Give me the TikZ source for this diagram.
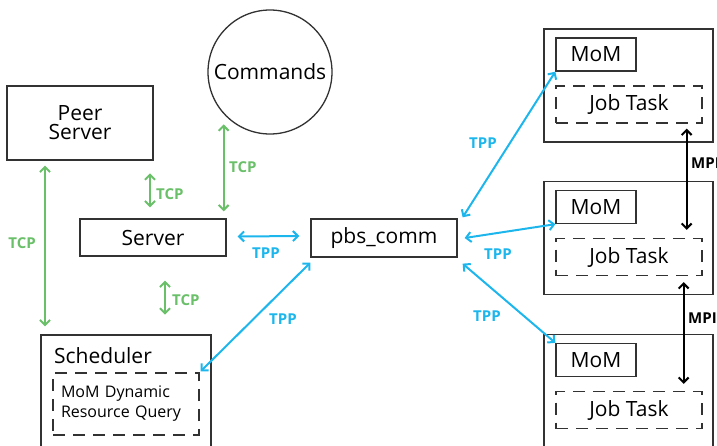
\documentclass[tikz,border=0pt]{standalone}
\usepackage{fontspec}
\setmainfont{Open Sans}
\usetikzlibrary{arrows.meta,calc}

\definecolor{tcpgreen}{RGB}{106,191,105}
\definecolor{tppblue}{RGB}{29,182,236}
\definecolor{boxgray}{RGB}{50,50,50}

\tikzset{
	box/.style={draw=boxgray, line width=1.3pt, rectangle, inner sep=0pt, font=\fontsize{21}{19}\selectfont},
	taskbox/.style={box, dash pattern=on 12pt off 8pt},
	link/.style={<->, >={Straight Barb[length=5pt,width=10pt]}, line width=2pt},
	tcp/.style={link, tcpgreen},
	tpp/.style={link, tppblue},
	mpi/.style={link, black},
	proto/.style={inner sep=0pt, font=\bfseries\fontsize{15}{15}\selectfont}
}

\begin{document}
\begin{tikzpicture}[x=1pt, y=-1pt]
	\useasboundingbox (0,0) rectangle (717,445);
	\clip (0,0) rectangle (717,445);

	% Server side
	\node[box, minimum width=146pt, minimum height=74pt, align=center] (peer) at (80,123) {Peer\\Server};
	\node[box, circle, minimum size=124pt] (cmds) at (270,72) {Commands};
	\node[box, minimum width=146pt, minimum height=37pt] (server) at (153,237.5) {Server};
	\node[box, minimum width=146pt, minimum height=38pt] (comm) at (384,238) {pbs\_comm};

	% Scheduler with its query block
	\node[box, minimum width=170pt, minimum height=124pt] (sched) at (126,397) {};
	\node[anchor=west, inner sep=0pt, font=\fontsize{21}{19}\selectfont] (schedname) at (54,356) {Scheduler};
	\node[taskbox, minimum width=146pt, minimum height=62pt, text width=130pt, align=left,
		font=\fontsize{16}{20}\selectfont] (dyn) at (126,404) {MoM Dynamic\\Resource Query};

	% Execution hosts
	\foreach \i/\y in {1/85.5, 2/238, 3/391} {
		\node[box, minimum width=169pt, minimum height=113pt] (host\i) at (628.5,\y) {};
		\node[box, minimum width=80pt, minimum height=33pt] (mom\i) at (596,\y-31) {MoM};
		\node[taskbox, minimum width=146pt, minimum height=37pt] (job\i) at (629,\y+19) {Job Task};
	}

	% TCP links
	\draw[tcp] ($(peer.south)+(-35,5)$) -- ($(sched.north)+(-81,-8)$);
	\node[proto, tcpgreen, anchor=east] (tcpa) at (36,243) {TCP};
	\draw[tcp] ($(server.north)+(-3,-45)$) -- ($(server.north)+(-3,-11)$);
	\node[proto, tcpgreen, anchor=west] (tcpb) at (156,194) {TCP};
	\draw[tcp] ($(server.north east)+(-3,-94)$) -- ($(server.north east)+(-3,-7)$);
	\node[proto, tcpgreen, anchor=west] (tcpc) at (229,167) {TCP};
	\draw[tcp] ($(server.south)+(12,24)$) -- ($(server.south)+(12,58)$);
	\node[proto, tcpgreen, anchor=west] (tcpd) at (172,300) {TCP};

	% TPP links
	\draw[tpp] ($(server.east)+(11,-1)$) -- ($(comm.west)+(-11,-2)$);
	\node[proto, tppblue] (tppa) at (266,253) {TPP};
	\draw[tpp] ($(dyn.north east)+(1,-1)$) -- ($(comm.south west)+(0,5)$);
	\node[proto, tppblue] (tppb) at (283,319) {TPP};
	\draw[tpp] ($(comm.north east)+(5,-1)$) -- (mom1.south west);
	\node[proto, tppblue] (tppc) at (483,143) {TPP};
	\draw[tpp] ($(comm.east)+(7,0)$) -- (mom2.south west);
	\node[proto, tppblue] (tppd) at (498,254) {TPP};
	\draw[tpp] ($(comm.south east)+(5,6)$) -- (mom3.north west);
	\node[proto, tppblue] (tppe) at (487,316) {TPP};

	% MPI between job tasks
	\draw[mpi] ($(job1.south east)+(-16,5)$) -- ($(job2.north east)+(-16,-8)$);
	\node[proto, anchor=west] (mpia) at (691,163) {MPI};
	\draw[mpi] ($(job2.south east)+(-19,6)$) -- ($(job3.north east)+(-19,-7)$);
	\node[proto, anchor=west] (mpib) at (688,318) {MPI};

\end{tikzpicture}
\end{document}
